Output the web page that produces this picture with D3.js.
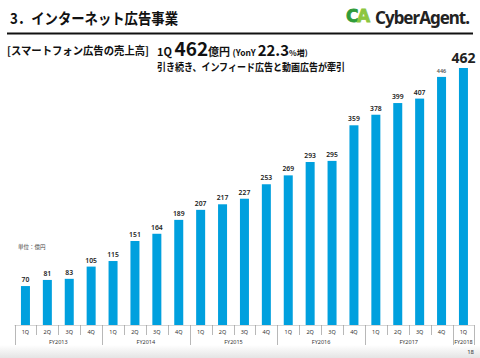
<!DOCTYPE html>
<html><head><meta charset="utf-8">
<script src="https://cdn.jsdelivr.net/npm/d3@7"></script>
<style>
html,body{margin:0;padding:0;background:#fff;}
svg{display:block;font-family:"Noto Sans CJK JP","Noto Sans",sans-serif;}
</style></head><body>
<script>
const years = ["FY2013","FY2014","FY2015","FY2016","FY2017","FY2018"];
const quarters = ["1Q","2Q","3Q","4Q","1Q","2Q","3Q","4Q","1Q","2Q","3Q","4Q","1Q","2Q","3Q","4Q","1Q","2Q","3Q","4Q","1Q"];
const yearOf = ["FY2013","FY2013","FY2013","FY2013","FY2014","FY2014","FY2014","FY2014","FY2015","FY2015","FY2015","FY2015","FY2016","FY2016","FY2016","FY2016","FY2017","FY2017","FY2017","FY2017","FY2018"];
const values = [70,81,83,105,115,151,164,189,207,217,227,253,269,293,295,359,378,399,407,446,462];

const W=480,H=358;
const svg=d3.select("body").append("svg").attr("width",W).attr("height",H);

// bottom gray band
const defs=svg.append("defs");
const g=defs.append("linearGradient").attr("id","bg").attr("x1",0).attr("y1",0).attr("x2",0).attr("y2",1);
g.append("stop").attr("offset","0%").attr("stop-color","#ffffff");
g.append("stop").attr("offset","100%").attr("stop-color","#e4e4e4");
svg.append("rect").attr("x",0).attr("y",345).attr("width",W).attr("height",13).attr("fill","url(#bg)");

// header
svg.append("text").attr("x",10).attr("y",24).attr("font-size",15).attr("font-weight","bold").attr("fill","#111")
  .attr("textLength",168).attr("lengthAdjust","spacingAndGlyphs")
  .text("3．インターネット広告事業");
svg.append("line").attr("x1",7).attr("x2",473).attr("y1",33.5).attr("y2",33.5).attr("stroke","#111").attr("stroke-width",2);

// logo
const logo=svg.append("g");
logo.append("text").attr("x",346).attr("y",22).attr("font-size",17).attr("font-weight","900").attr("fill","#2f9c3a")
  .attr("font-family","'DejaVu Sans',sans-serif").attr("stroke","#2f9c3a").attr("stroke-width",0.8).text("C");
logo.append("text").attr("x",357).attr("y",22).attr("font-size",17).attr("font-weight","900").attr("fill","#8cc63f")
  .attr("font-family","'DejaVu Sans',sans-serif").attr("stroke","#8cc63f").attr("stroke-width",0.8).text("A");
logo.append("text").attr("x",375).attr("y",24).attr("font-size",17).attr("font-weight","bold").attr("fill","#222")
  .attr("font-family","'Noto Sans',sans-serif").attr("textLength",95).text("CyberAgent.");

// subtitle
svg.append("text").attr("x",7).attr("y",55).attr("font-size",11).attr("font-weight","bold").attr("fill","#111")
  .attr("textLength",142).attr("lengthAdjust","spacingAndGlyphs")
  .text("[スマートフォン広告の売上高]");
const t=svg.append("text").attr("x",157).attr("y",56).attr("font-weight","bold").attr("fill","#111");
t.append("tspan").attr("font-size",11).text("1Q ");
t.append("tspan").attr("font-size",19).text("462");
t.append("tspan").attr("font-size",11).text("億円 ");
t.append("tspan").attr("font-size",8.5).text("(YonY ");
t.append("tspan").attr("font-size",15).text("22.3");
t.append("tspan").attr("font-size",8).text("%増)");
svg.append("text").attr("x",157).attr("y",71).attr("font-size",10.5).attr("font-weight","bold").attr("fill","#111")
  .attr("textLength",188).attr("lengthAdjust","spacingAndGlyphs")
  .text("引き続き、インフィード広告と動画広告が牽引");

svg.append("text").attr("x",18).attr("y",249).attr("font-size",5.5).attr("fill","#444").text("単位：億円");

// chart
const x=d3.scaleBand().domain(d3.range(values.length)).range([14.5,474.4]).paddingInner(0).paddingOuter(0);
const y=d3.scaleLinear().domain([0,462]).range([325,68]);
const bw=9;

svg.append("line").attr("x1",14.5).attr("x2",474.4).attr("y1",325.5).attr("y2",325.5).attr("stroke","#ccc").attr("stroke-width",0.8);

svg.selectAll("rect.bar").data(values).enter().append("rect").attr("class","bar")
  .attr("x",(d,i)=>x(i)+x.bandwidth()/2-bw/2).attr("width",bw)
  .attr("y",d=>y(d)).attr("height",d=>y(0)-y(d)).attr("fill","#00a0de");

svg.selectAll("text.val").data(values).enter().append("text").attr("class","val")
  .attr("x",(d,i)=>x(i)+x.bandwidth()/2).attr("y",(d,i)=>y(d)-(i===values.length-1?5:4))
  .attr("text-anchor","middle").attr("fill",(d,i)=>i===values.length-2?"#555":"#222")
  .attr("font-size",(d,i)=>i===values.length-1?14:(i===values.length-2?5.5:6.8))
  .attr("font-weight",(d,i)=>i===values.length-1?"bold":"600")
  .attr("font-family","'Noto Sans',sans-serif")
  .text(d=>d);

// quarter axis
const ax=svg.append("g");
d3.range(values.length+1).forEach(i=>{
  const xx = i<values.length ? x(i) : x(values.length-1)+x.bandwidth();
  const isYear = i===0 || i===values.length || yearOf[i]!==yearOf[i-1];
  ax.append("line").attr("x1",Math.round(xx)+0.5).attr("x2",Math.round(xx)+0.5)
    .attr("y1",325).attr("y2",isYear?345:335).attr("stroke","#999").attr("stroke-width",0.7);
});
ax.selectAll("text.q").data(quarters).enter().append("text")
  .attr("x",(d,i)=>x(i)+x.bandwidth()/2).attr("y",334).attr("text-anchor","middle")
  .attr("font-size",5.5).attr("fill","#333").attr("font-family","'Noto Sans',sans-serif").text(d=>d);
years.forEach(yr=>{
  const idx=yearOf.map((v,i)=>v===yr?i:-1).filter(i=>i>=0);
  const x0=x(idx[0]), x1=x(idx[idx.length-1])+x.bandwidth();
  ax.append("text").attr("x",(x0+x1)/2).attr("y",343.5).attr("text-anchor","middle")
    .attr("font-size",5.5).attr("fill","#333").attr("font-family","'Noto Sans',sans-serif").text(yr);
});

svg.append("text").attr("x",474).attr("y",354).attr("text-anchor","end").attr("font-size",6).attr("fill","#333")
  .attr("font-family","'Noto Sans',sans-serif").text("18");
</script>
</body></html>
